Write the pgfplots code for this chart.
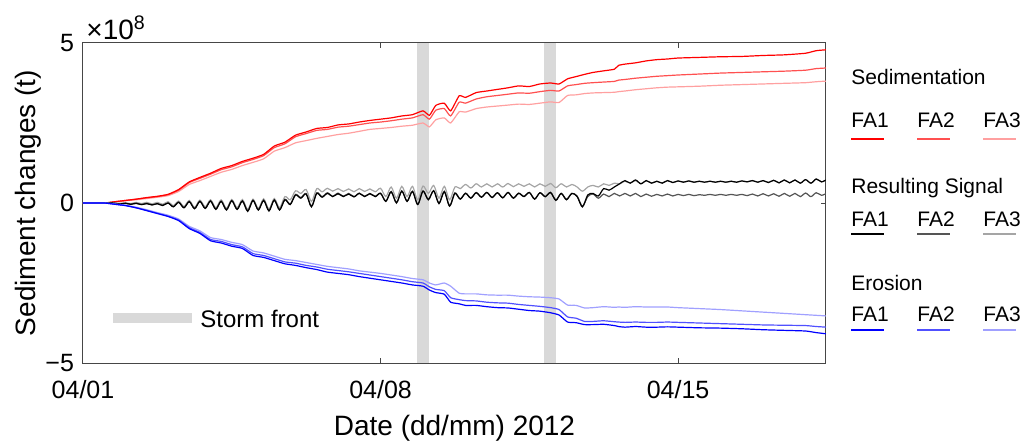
\documentclass[border=0pt]{standalone}
\usepackage{pgfplots}
\pgfplotsset{compat=1.18}
\usepackage{pgfplotstable}
\usepackage{fontspec}
\setmainfont{Liberation Sans}
\definecolor{sedA}{RGB}{255,0,0}
\definecolor{sedB}{RGB}{255,80,80}
\definecolor{sedC}{RGB}{255,160,160}
\definecolor{sigA}{RGB}{0,0,0}
\definecolor{sigB}{RGB}{85,85,85}
\definecolor{sigC}{RGB}{165,165,165}
\definecolor{eroA}{RGB}{0,0,255}
\definecolor{eroB}{RGB}{80,80,255}
\definecolor{eroC}{RGB}{160,160,255}
\definecolor{storm}{RGB}{217,217,217}
\definecolor{axcol}{RGB}{70,70,70}

\pgfplotstableread{
d s1 s2 s3 e1 e2 e3
0 0 0 0 0 0 0
0.5 0 0 0 0 0 0
0.75 0.04 0.04 0.03 -0.04 -0.04 -0.03
1 0.08 0.08 0.07 -0.08 -0.08 -0.07
1.25 0.12 0.12 0.10 -0.15 -0.15 -0.13
1.5 0.17 0.16 0.14 -0.24 -0.23 -0.21
1.75 0.21 0.20 0.18 -0.33 -0.32 -0.30
2 0.27 0.26 0.23 -0.42 -0.41 -0.38
2.25 0.42 0.40 0.36 -0.55 -0.53 -0.50
2.5 0.66 0.64 0.58 -0.80 -0.77 -0.73
2.75 0.80 0.77 0.70 -0.95 -0.92 -0.87
3 0.93 0.90 0.83 -1.18 -1.14 -1.08
3.25 1.08 1.04 0.96 -1.25 -1.20 -1.14
3.5 1.17 1.13 1.05 -1.35 -1.30 -1.23
3.75 1.30 1.26 1.17 -1.42 -1.37 -1.30
4 1.40 1.36 1.27 -1.64 -1.58 -1.50
4.25 1.52 1.48 1.38 -1.70 -1.64 -1.56
4.5 1.78 1.73 1.62 -1.80 -1.74 -1.66
4.75 1.90 1.85 1.73 -1.90 -1.84 -1.76
5 2.12 2.07 1.88 -1.95 -1.88 -1.80
5.25 2.22 2.17 1.95 -2.02 -1.95 -1.86
5.5 2.33 2.27 2.02 -2.08 -2.00 -1.92
5.75 2.36 2.30 2.08 -2.16 -2.07 -1.98
6 2.44 2.37 2.14 -2.20 -2.11 -2.02
6.25 2.47 2.40 2.18 -2.24 -2.15 -2.06
6.5 2.53 2.45 2.24 -2.30 -2.20 -2.12
6.75 2.58 2.50 2.30 -2.35 -2.25 -2.16
7 2.62 2.53 2.33 -2.40 -2.30 -2.20
7.25 2.66 2.57 2.36 -2.45 -2.35 -2.25
7.5 2.72 2.62 2.40 -2.50 -2.40 -2.30
7.75 2.76 2.66 2.43 -2.56 -2.46 -2.36
8 2.88 2.76 2.50 -2.60 -2.50 -2.40
8.15 2.74 2.62 2.38 -2.72 -2.62 -2.50
8.3 3.05 2.90 2.60 -2.80 -2.70 -2.56
8.5 3.12 2.95 2.66 -2.85 -2.74 -2.50
8.65 2.88 2.72 2.50 -3.10 -2.96 -2.60
8.85 3.35 3.15 2.85 -3.15 -3.02 -2.82
9 3.30 3.12 2.84 -3.20 -3.05 -2.84
9.25 3.45 3.25 2.95 -3.20 -3.06 -2.84
9.5 3.50 3.32 3.00 -3.24 -3.10 -2.87
9.75 3.55 3.36 3.03 -3.27 -3.12 -2.88
10 3.60 3.40 3.06 -3.28 -3.13 -2.88
10.25 3.66 3.44 3.09 -3.32 -3.17 -2.91
10.5 3.64 3.43 3.08 -3.36 -3.20 -2.93
10.75 3.72 3.48 3.12 -3.38 -3.23 -2.94
11 3.75 3.52 3.16 -3.43 -3.27 -2.96
11.2 3.72 3.50 3.14 -3.50 -3.33 -3.00
11.4 3.88 3.66 3.36 -3.72 -3.56 -3.19
11.6 3.95 3.70 3.38 -3.74 -3.60 -3.20
11.8 4.02 3.74 3.42 -3.80 -3.70 -3.28
12 4.08 3.76 3.44 -3.80 -3.70 -3.27
12.25 4.13 3.78 3.45 -3.79 -3.68 -3.24
12.5 4.18 3.80 3.46 -3.83 -3.71 -3.26
12.6 4.30 3.84 3.48 -3.86 -3.72 -3.25
12.75 4.34 3.86 3.50 -3.88 -3.73 -3.26
13 4.38 3.90 3.54 -3.86 -3.72 -3.24
13.25 4.44 3.93 3.57 -3.88 -3.73 -3.25
13.5 4.48 3.96 3.60 -3.88 -3.73 -3.25
13.75 4.50 3.98 3.62 -3.87 -3.72 -3.25
14 4.53 4.00 3.63 -3.88 -3.73 -3.27
14.5 4.55 4.03 3.65 -3.90 -3.75 -3.30
15 4.57 4.06 3.68 -3.91 -3.77 -3.33
15.5 4.58 4.08 3.70 -3.93 -3.79 -3.37
16 4.61 4.10 3.72 -3.96 -3.81 -3.41
16.5 4.63 4.12 3.74 -3.98 -3.82 -3.45
17 4.68 4.15 3.76 -4.00 -3.83 -3.49
17.25 4.76 4.20 3.79 -4.05 -3.86 -3.51
17.5 4.79 4.22 3.81 -4.09 -3.88 -3.53
}\sedero

\pgfplotstableread{
d r1 r2 r3
0 0 0 0
0.625 0 0 0
0.75 -0.01 -0.01 0.00
0.875 -0.03 -0.03 -0.01
1.0 -0.01 -0.01 0.01
1.125 -0.04 -0.04 -0.02
1.25 -0.01 -0.01 0.02
1.375 -0.05 -0.05 -0.02
1.5 -0.02 -0.01 0.02
1.625 -0.06 -0.06 -0.03
1.75 -0.02 -0.02 0.02
1.875 -0.08 -0.07 -0.04
2.0 0.00 0.00 0.04
2.125 -0.12 -0.11 -0.08
2.25 0.02 0.03 0.06
2.375 -0.15 -0.14 -0.11
2.5 0.04 0.05 0.08
2.625 -0.18 -0.17 -0.14
2.75 0.05 0.06 0.09
2.875 -0.17 -0.16 -0.12
3.0 0.06 0.07 0.10
3.125 -0.20 -0.18 -0.15
3.25 0.05 0.06 0.10
3.375 -0.22 -0.20 -0.17
3.5 0.07 0.08 0.11
3.625 -0.20 -0.19 -0.15
3.75 0.06 0.07 0.11
3.875 -0.26 -0.24 -0.20
4.0 0.08 0.09 0.12
4.125 -0.22 -0.21 -0.17
4.25 0.08 0.09 0.13
4.375 -0.25 -0.23 -0.19
4.5 0.09 0.10 0.14
4.625 -0.22 -0.20 -0.15
4.75 0.10 0.12 0.20
4.875 -0.05 -0.03 0.10
5.0 0.25 0.27 0.38
5.125 0.15 0.17 0.30
5.25 0.28 0.30 0.42
5.375 -0.12 -0.10 0.05
5.5 0.30 0.32 0.45
5.625 0.18 0.20 0.35
5.75 0.30 0.32 0.46
5.875 0.20 0.21 0.37
6.0 0.29 0.31 0.45
6.125 0.20 0.21 0.36
6.25 0.28 0.30 0.44
6.375 0.19 0.20 0.35
6.5 0.30 0.31 0.45
6.625 0.20 0.21 0.36
6.75 0.29 0.30 0.44
6.875 0.20 0.21 0.35
7.0 0.30 0.31 0.46
7.125 0.05 0.06 0.20
7.25 0.35 0.36 0.50
7.375 0.00 0.02 0.15
7.5 0.37 0.38 0.52
7.625 0.05 0.06 0.20
7.75 0.36 0.37 0.52
7.875 -0.05 -0.03 0.10
8.0 0.37 0.38 0.53
8.125 0.10 0.12 0.30
8.25 0.38 0.39 0.55
8.375 -0.02 0.00 0.15
8.5 0.35 0.37 0.52
8.625 -0.10 -0.08 0.10
8.75 0.30 0.32 0.50
8.875 0.12 0.13 0.45
9.0 0.30 0.31 0.58
9.125 0.15 0.16 0.47
9.25 0.32 0.33 0.60
9.375 0.18 0.19 0.50
9.5 0.33 0.33 0.60
9.625 0.17 0.18 0.50
9.75 0.32 0.32 0.60
9.875 0.16 0.17 0.50
10.0 0.33 0.33 0.61
10.125 0.15 0.16 0.51
10.25 0.30 0.31 0.60
10.375 0.20 0.21 0.52
10.5 0.33 0.33 0.60
10.625 0.12 0.13 0.50
10.75 0.32 0.32 0.60
10.875 0.20 0.20 0.52
11.0 0.33 0.33 0.61
11.125 0.08 0.10 0.48
11.25 0.30 0.30 0.60
11.375 0.10 0.12 0.50
11.5 0.30 0.30 0.58
11.625 0.20 0.22 0.50
11.75 -0.12 -0.10 0.37
11.875 0.25 0.20 0.50
12.0 0.30 0.28 0.55
12.125 0.22 0.15 0.50
12.25 0.45 0.28 0.60
12.375 0.40 0.20 0.55
12.5 0.50 0.30 0.62
12.625 0.60 0.22 0.60
12.75 0.70 0.30 0.68
12.875 0.62 0.22 0.62
13.0 0.72 0.30 0.70
13.125 0.60 0.20 0.60
13.25 0.70 0.28 0.70
13.375 0.62 0.21 0.62
13.5 0.68 0.27 0.68
13.625 0.62 0.22 0.62
13.75 0.70 0.28 0.70
13.875 0.64 0.22 0.64
14.0 0.69 0.27 0.69
14.125 0.65 0.23 0.65
14.25 0.69 0.27 0.69
14.375 0.65 0.23 0.65
14.5 0.68 0.26 0.68
14.625 0.65 0.24 0.65
14.75 0.68 0.27 0.68
14.875 0.65 0.24 0.65
15.0 0.68 0.27 0.68
15.125 0.65 0.24 0.65
15.25 0.68 0.27 0.68
15.375 0.65 0.24 0.65
15.5 0.69 0.27 0.69
15.625 0.66 0.23 0.66
15.75 0.70 0.28 0.70
15.875 0.65 0.22 0.65
16.0 0.70 0.29 0.70
16.125 0.64 0.22 0.64
16.25 0.71 0.29 0.71
16.375 0.63 0.21 0.63
16.5 0.72 0.30 0.72
16.625 0.63 0.21 0.63
16.75 0.72 0.30 0.72
16.875 0.62 0.20 0.62
17.0 0.73 0.31 0.73
17.125 0.62 0.20 0.62
17.25 0.75 0.32 0.75
17.375 0.66 0.24 0.66
17.5 0.74 0.31 0.74
}\signal

\begin{document}
\begin{tikzpicture}
\path[use as bounding box] (-41.5pt,-42pt) rectangle (470.5pt,181.5pt);
\begin{axis}[
  at={(0pt,0pt)}, anchor=south west,
  width=371.5pt, height=160pt, scale only axis,
  xmin=0, xmax=17.48, ymin=-5, ymax=5,
  xtick={0,7,14}, xticklabels={04/01,04/08,04/15},
  ytick={-5,0,5}, yticklabels={−5,0,5},
  tick align=inside, major tick length=2.5pt,
  axis line style={axcol, line width=0.5pt},
  tick style={axcol, line width=0.5pt},
  ticklabel style={font=\fontsize{12.5}{14}\selectfont},
  xticklabel style={yshift=-5pt},
  yticklabel style={xshift=-1pt},
  xlabel={Date (dd/mm) 2012},
  ylabel={Sediment changes (t)},
  label style={font=\fontsize{14}{16}\selectfont},
  xlabel style={at={(axis description cs:0.5,-0.203)}, anchor=center},
  ylabel style={at={(axis description cs:-0.074,0.5)}, anchor=center},
  no markers,
  every axis plot/.append style={line width=0.6pt},
]
\addplot[fill=storm, draw=none] coordinates {(7.86,-5) (8.14,-5) (8.14,5) (7.86,5)};
\addplot[fill=storm, draw=none] coordinates {(10.85,-5) (11.13,-5) (11.13,5) (10.85,5)};
\addplot[sedC, smooth, tension=0.3] table[x=d, y=s3] {\sedero};
\addplot[sedB, smooth, tension=0.3] table[x=d, y=s2] {\sedero};
\addplot[sedA, smooth, tension=0.3] table[x=d, y=s1] {\sedero};
\addplot[sigC, smooth, tension=0.5] table[x=d, y=r3] {\signal};
\addplot[sigB, smooth, tension=0.5] table[x=d, y=r2] {\signal};
\addplot[sigA, smooth, tension=0.5] table[x=d, y=r1] {\signal};
\addplot[eroC, smooth, tension=0.3] table[x=d, y=e3] {\sedero};
\addplot[eroB, smooth, tension=0.3] table[x=d, y=e2] {\sedero};
\addplot[eroA, smooth, tension=0.3] table[x=d, y=e1] {\sedero};
\end{axis}
% scale factor label
\node[anchor=west, inner sep=0pt, font=\fontsize{14}{16}\selectfont] at (1.5pt,167.5pt) {×10\textsuperscript{8}};
% storm front legend
\fill[storm] (15pt,20pt) rectangle (54.5pt,25pt);
\node[anchor=west, inner sep=0pt, font=\fontsize{12}{14}\selectfont] at (58.5pt,22pt) {Storm front};
% right legend
\begin{scope}[every node/.style={anchor=west, inner sep=0pt, font=\fontsize{10.5}{12}\selectfont}]
\node at (384pt,143pt) {Sedimentation};
\node at (384pt,121.5pt) {FA1};
\node at (417pt,121.5pt) {FA2};
\node at (450pt,121.5pt) {FA3};
\draw[sedA, line width=0.6pt] (384pt,112pt) -- ++(16.5pt,0);
\draw[sedB, line width=0.6pt] (417pt,112pt) -- ++(16.5pt,0);
\draw[sedC, line width=0.6pt] (450pt,112pt) -- ++(16.5pt,0);
\node at (384pt,87.5pt) {Resulting Signal};
\node at (384pt,72pt) {FA1};
\node at (417pt,72pt) {FA2};
\node at (450pt,72pt) {FA3};
\draw[sigA, line width=0.6pt] (384pt,64.5pt) -- ++(16.5pt,0);
\draw[sigB, line width=0.6pt] (417pt,64.5pt) -- ++(16.5pt,0);
\draw[sigC, line width=0.6pt] (450pt,64.5pt) -- ++(16.5pt,0);
\node at (384pt,40pt) {Erosion};
\node at (384pt,24.5pt) {FA1};
\node at (417pt,24.5pt) {FA2};
\node at (450pt,24.5pt) {FA3};
\draw[eroA, line width=0.6pt] (384pt,16.5pt) -- ++(16.5pt,0);
\draw[eroB, line width=0.6pt] (417pt,16.5pt) -- ++(16.5pt,0);
\draw[eroC, line width=0.6pt] (450pt,16.5pt) -- ++(16.5pt,0);
\end{scope}
\end{tikzpicture}
\end{document}
